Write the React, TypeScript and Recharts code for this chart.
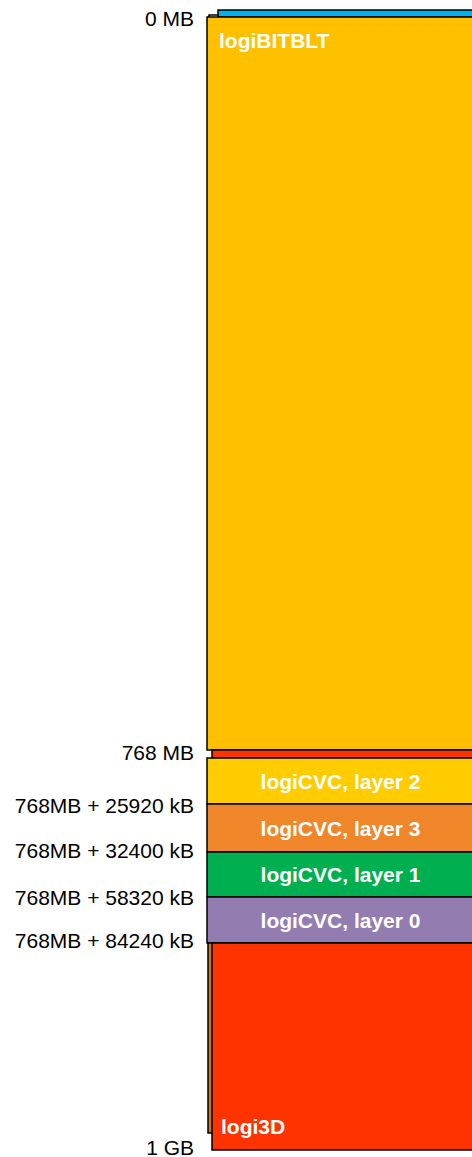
import { BarChart, Bar, XAxis, YAxis } from 'recharts';

// memory map, drawn like the original: blocks are not to scale
const segmentKeys = ['reserved', 'logiBITBLT', 'logi3DHead', 'layer2', 'layer3', 'layer1', 'layer0', 'logi3D'];
const segmentTitles = ['', 'logiBITBLT', '', 'logiCVC, layer 2', 'logiCVC, layer 3', 'logiCVC, layer 1', 'logiCVC, layer 0', 'logi3D'];
// drawn height of each block (diagram units)
const segmentSpans = [7, 733, 8, 46, 48, 45, 46, 207];

const addressLabels = ['0 MB', '768 MB', '768MB + 25920 kB', '768MB + 32400 kB', '768MB + 58320 kB', '768MB + 84240 kB', '1 GB'];
// each address sits at the end of this block
const addressAfter = [0, 1, 3, 4, 5, 6, 7];

const COLORS = ['#00B0F0', '#FFC000', '#FF3300', '#FFCC00', '#F0862A', '#00B050', '#937DB0', '#FF3300'];
const SHIFT = [11, 0, 5, 0, 0, 0, 0, 5];
const TITLE_POS = ['none', 'topLeft', 'none', 'center', 'center', 'center', 'center', 'bottomLeft'];
const TICK_DY = [1, 2, 1, -2, 0, -3, -3];

const FONT = '"Liberation Sans", Arial, sans-serif';

const row: Record<string, number | string> = { name: 'map' };
segmentKeys.forEach((k, i) => { row[k] = segmentSpans[i]; });
const chartData = [row];

const bounds: number[] = [];
segmentSpans.reduce((acc, v) => { bounds.push(acc + v); return acc + v; }, 0);
const total = bounds[bounds.length - 1];
const tickValues = addressAfter.map((i) => bounds[i]);

const makeShape = (i: number) => (props: any) => {
    let { x, y, width, height } = props;
    // reversed axis gives negative heights
    if (height < 0) { y = y + height; height = -height; }
    if (width < 0) { x = x + width; width = -width; }
    const dx = SHIFT[i];
    const title = segmentTitles[i];
    const pos = TITLE_POS[i];
    const textStyle = { fill: '#fff', fontSize: 21, fontWeight: 700, fontFamily: FONT };
    return (
        <g>
            {i === 0 && (
                <rect x={x + 2} y={y + 5} width={width} height={height} fill="none" stroke="#000" strokeWidth={1.5} />
            )}
            {i === 7 && (
                <rect x={x + 1} y={y} width={width} height={height - 17} fill="#C8781E" stroke="#000" strokeWidth={1.5} />
            )}
            <rect x={x + dx} y={y} width={width} height={height} fill={COLORS[i]} stroke="#000" strokeWidth={1.5} />
            {pos === 'topLeft' && (
                <text x={x + 12} y={y + 31} {...textStyle}>{title}</text>
            )}
            {pos === 'center' && (
                <text x={x + width / 2} y={y + height / 2} textAnchor="middle" dominantBaseline="central" {...textStyle}>{title}</text>
            )}
            {pos === 'bottomLeft' && (
                <text x={x + dx + 9} y={y + height - 16} {...textStyle}>{title}</text>
            )}
        </g>
    );
};

const AddressTick = (props: any) => {
    const { x, y, payload } = props;
    const idx = tickValues.indexOf(payload.value);
    return (
        <text x={x} y={y + (TICK_DY[idx] ?? 0)} textAnchor="end" dominantBaseline="central" fill="#000" fontSize={21} fontFamily={FONT}>
            {addressLabels[idx] ?? ''}
        </text>
    );
};

export default function App() {
    return (
        <div style={{ position: 'absolute', left: 0, top: 0, width: 472, height: 1157, overflow: 'hidden', background: '#fff' }}>
            <BarChart
                width={474}
                height={1157}
                data={chartData}
                margin={{ top: 10, right: 0, bottom: 7, left: 0 }}
                barCategoryGap={0}
            >
                <XAxis dataKey="name" hide />
                <YAxis
                    type="number"
                    reversed
                    domain={[0, total]}
                    ticks={tickValues}
                    interval={0}
                    width={207}
                    axisLine={false}
                    tickLine={false}
                    tickMargin={7}
                    tick={<AddressTick />}
                />
                {segmentKeys.map((k, i) => (
                    <Bar key={k} dataKey={k} stackId="mem" isAnimationActive={false} shape={makeShape(i)} />
                ))}
            </BarChart>
        </div>
    );
}
